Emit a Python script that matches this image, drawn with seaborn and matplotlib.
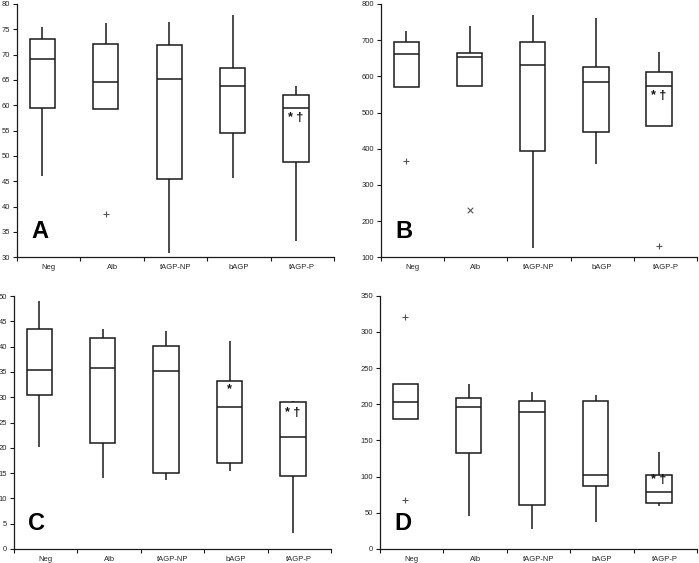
import numpy as np
import pandas as pd
import matplotlib
matplotlib.use("Agg")
import matplotlib.pyplot as plt
import seaborn as sns

# groups on the x axis
groups = ["Neg", "Alb", "fAGP-NP", "bAGP", "fAGP-P"]

# five-number summaries per group: low whisker, Q1, median, Q3, high whisker
a_stats = [[46.0, 59.5, 69.1, 73.0, 75.5],
           [59.3, 59.3, 64.5, 72.0, 76.3],
           [30.8, 45.4, 65.1, 71.8, 76.4],
           [45.6, 54.6, 63.9, 67.4, 77.9],
           [33.3, 48.9, 59.4, 62.1, 63.8]]
b_stats = [[570, 570, 663, 696, 726],
           [572, 572, 653, 664, 740],
           [125, 393, 631, 694, 770],
           [358, 445, 585, 626, 760],
           [463, 463, 572, 612, 668]]
c_stats = [[20.1, 30.5, 35.4, 43.4, 49.1],
           [14.1, 21.0, 35.8, 41.8, 43.4],
           [13.6, 15.1, 35.1, 40.2, 43.0],
           [15.5, 17.0, 28.0, 33.2, 41.2],
           [3.1, 14.4, 22.2, 29.0, 29.2]]
d_stats = [[180, 180, 203, 228, 228],
           [45, 132.6, 196.2, 209.2, 228.5],
           [27.2, 60.4, 188.9, 204.5, 216.9],
           [37.9, 86.6, 102.3, 204.5, 213.3],
           [59, 63.1, 78.3, 102.3, 134]]

# outliers: (group, value, marker)
a_out = [("Alb", 38.6, "+")]
b_out = [("Neg", 366, "+"), ("Alb", 230, "x"), ("fAGP-P", 132, "+")]
c_out = []
d_out = [("Neg", 320, "+"), ("Neg", 68, "+")]

# significance marks: (group, y, text)
a_marks = [("fAGP-P", 57.4, "* †")]
b_marks = [("fAGP-P", 547, "* †")]
c_marks = [("bAGP", 31.6, "*"), ("fAGP-P", 26.9, "* †")]
d_marks = [("fAGP-P", 95, "* †")]

panels = [
    ("A", a_stats, a_out, a_marks, (30, 80), 5),
    ("B", b_stats, b_out, b_marks, (100, 800), 100),
    ("C", c_stats, c_out, c_marks, (0, 50), 5),
    ("D", d_stats, d_out, d_marks, (0, 350), 50),
]

sns.set_style("ticks")
plt.rcParams["font.family"] = ["Liberation Sans", "DejaVu Sans"]

fig = plt.figure(figsize=(6.99, 5.63), dpi=100)
rects = [
    [0.0243, 0.543, 0.4537, 0.450],
    [0.5451, 0.543, 0.4521, 0.450],
    [0.0200, 0.0249, 0.4535, 0.4493],
    [0.5436, 0.0249, 0.4535, 0.4500],
]

line = "#1a1a1a"

for (letter, stats, outs, marks, ylim, step), rect in zip(panels, rects):
    ax = fig.add_axes(rect)
    rows = []
    for g, vals in zip(groups, stats):
        for v in vals:
            rows.append({"group": g, "value": v})
    df = pd.DataFrame(rows)

    sns.boxplot(data=df, x="group", y="value", order=groups, ax=ax,
                whis=(0, 100), width=0.4, color="white", linecolor=line,
                linewidth=1.1, showcaps=False, showfliers=False)

    for mk in ["+", "x"]:
        sub = pd.DataFrame([{"group": g, "value": v} for g, v, m in outs if m == mk])
        if len(sub):
            sns.stripplot(data=sub, x="group", y="value", order=groups, ax=ax,
                          jitter=False, marker=mk, color="#555555", size=4,
                          linewidth=0.8)

    for g, y, t in marks:
        ax.text(groups.index(g), y, t, ha="center", va="center",
                fontsize=9, fontweight="bold", color="#111111")

    ax.text(0.045, 0.055, letter, transform=ax.transAxes, ha="left",
            va="bottom", fontsize=17, fontweight="bold", color="black")

    ax.set_ylim(*ylim)
    ax.set_yticks(np.arange(ylim[0], ylim[1] + step / 2, step))
    ax.set_xlim(-0.4, 4.6)
    ax.set_xticks(np.arange(len(groups)) + 0.1, groups)
    ax.set_xticks(np.arange(len(groups) + 1) - 0.4, minor=True)
    ax.tick_params(axis="x", which="major", length=0, labelsize=5.5, pad=5)
    ax.tick_params(axis="x", which="minor", length=3, width=0.8, color=line)
    ax.tick_params(axis="y", length=3, width=0.8, color=line, labelsize=5.5, pad=2)
    ax.set_xlabel("")
    ax.set_ylabel("")
    for s in ["top", "right"]:
        ax.spines[s].set_visible(False)
    for s in ["left", "bottom"]:
        ax.spines[s].set_color(line)
        ax.spines[s].set_linewidth(0.9)

fig.savefig("out.png", dpi=100)
